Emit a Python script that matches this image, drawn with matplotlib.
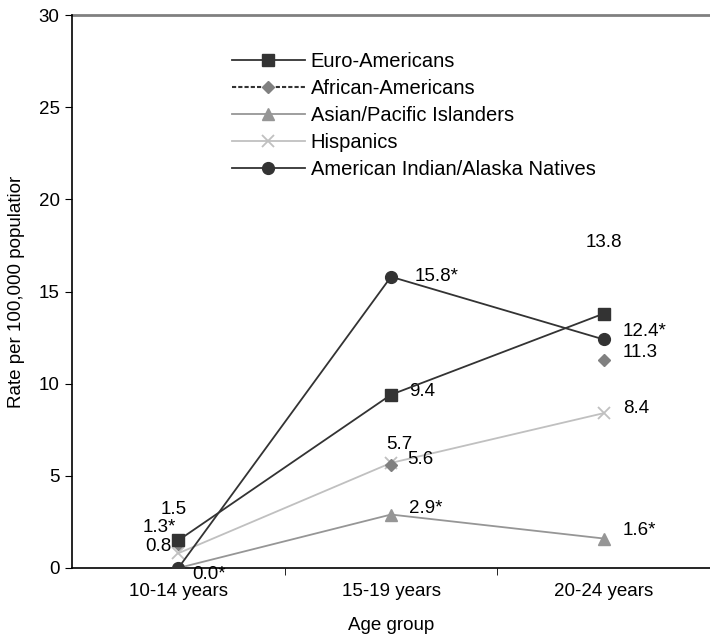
import matplotlib
matplotlib.use("Agg")
import matplotlib.pyplot as plt
from matplotlib.lines import Line2D

plt.rcParams["font.family"] = ["Liberation Sans", "DejaVu Sans"]

age_groups = ["10-14 years", "15-19 years", "20-24 years"]
euro = [1.5, 9.4, 13.8]
african = [1.3, 5.6, 11.3]
asian = [0.0, 2.9, 1.6]
hispanic = [0.8, 5.7, 8.4]
aian = [0.0, 15.8, 12.4]

euro_lbl = ["1.5", "9.4", "13.8"]
african_lbl = ["1.3*", "5.6", "11.3"]
asian_lbl = ["", "2.9*", "1.6*"]
hispanic_lbl = ["0.8", "5.7", "8.4"]
aian_lbl = ["0.0*", "15.8*", "12.4*"]

DARK = "#333333"
x = list(range(len(age_groups)))

fig = plt.figure(figsize=(7.1, 6.39), dpi=100)
ax = fig.add_axes([72 / 710, 71 / 639, 638 / 710, 553 / 639])

ax.plot(x, asian, color="#969696", marker="^", ms=8, lw=1.3, zorder=2)
ax.plot(x, hispanic, color="#c0c0c0", marker="x", ms=9, mew=1.3, lw=1.3, zorder=2)
ax.plot(x, african, color="#808080", marker="D", ms=6.5, ls="none", zorder=3)
ax.plot(x, euro, color=DARK, marker="s", ms=8, lw=1.3, zorder=4)
ax.plot(x, aian, color=DARK, marker="o", ms=8.5, lw=1.3, zorder=5)

fs = 13.5


def put(vals, labels, offs):
    # offs: (dx, dy, ha) in points from the marker
    for xi, v, t, (dx, dy, ha) in zip(x, vals, labels, offs):
        if t:
            ax.annotate(t, (xi, v), xytext=(dx, dy), textcoords="offset points",
                        ha=ha, va="center", fontsize=fs)


put(euro, euro_lbl, [(-3, 22, "center"), (13, 2, "left"), (0, 51, "center")])
put(african, african_lbl, [(-2, 12, "right"), (12, 4, "left"), (14, 5, "left")])
put(asian, asian_lbl, [(0, 0, "left"), (13, 4, "left"), (14, 6, "left")])
put(hispanic, hispanic_lbl, [(-5, 5, "right"), (6, 13, "center"), (14, 3, "left")])
put(aian, aian_lbl, [(10, -5, "left"), (17, 0, "left"), (14, 6, "left")])

ax.set_xlim(-0.5, 2.5)
ax.set_ylim(0, 30)
ax.set_yticks(range(0, 31, 5))
ax.set_xticks(x)
ax.set_xticklabels(age_groups)
ax.set_xticks([0.5, 1.5], minor=True)
ax.tick_params(axis="x", which="major", length=0, pad=11, labelsize=fs)
ax.tick_params(axis="x", which="minor", length=5, direction="out", color="black")
ax.tick_params(axis="y", length=5, direction="out", labelsize=fs, pad=4)
ax.axhline(30, color="#808080", lw=2, zorder=1, clip_on=False)
for s in ["top", "right"]:
    ax.spines[s].set_visible(False)
ax.spines["left"].set_linewidth(1.2)
ax.spines["bottom"].set_linewidth(1.2)
ax.set_xlabel("Age group", fontsize=fs, labelpad=12)
ax.set_ylabel("Rate per 100,000 populatior", fontsize=fs, labelpad=10)

handles = [
    Line2D([], [], color=DARK, marker="s", ms=8, lw=1.3),
    Line2D([], [], color=DARK, ls=(0, (2, 1)), lw=1.5, marker="D", ms=6.5,
           mfc="#808080", mec="#808080"),
    Line2D([], [], color="#969696", marker="^", ms=8, lw=1.3),
    Line2D([], [], color="#c0c0c0", marker="x", ms=9, mew=1.3, lw=1.3),
    Line2D([], [], color=DARK, marker="o", ms=8.5, lw=1.3),
]
names = ["Euro-Americans", "African-Americans", "Asian/Pacific Islanders",
         "Hispanics", "American Indian/Alaska Natives"]
ax.legend(handles, names, loc="upper left", bbox_to_anchor=(222 / 710, 1 - 42 / 639),
          bbox_transform=fig.transFigure, frameon=False, fontsize=14.5,
          handlelength=3.6, handletextpad=0.3, labelspacing=0.4, borderpad=0)

fig.savefig("out.png", dpi=100)
